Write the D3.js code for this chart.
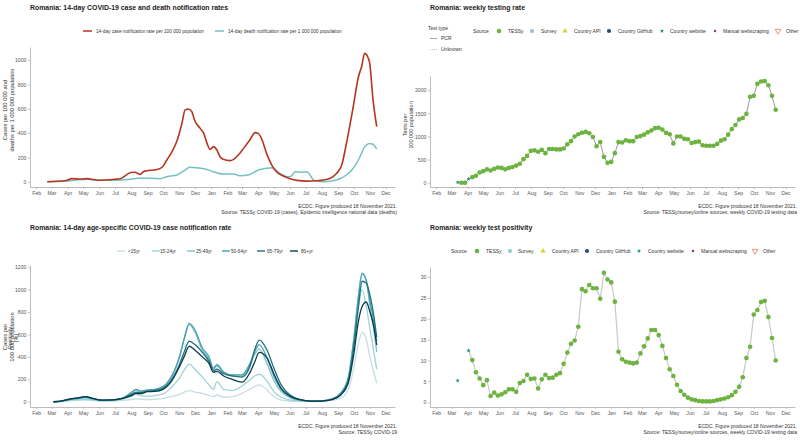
<!DOCTYPE html>
<html><head><meta charset="utf-8">
<script src="https://cdn.jsdelivr.net/npm/d3@7"></script>
<style>body{margin:0;background:#fff} svg text{font-family:"Liberation Sans",Arial,sans-serif}</style>
</head><body><svg id="c" width="800" height="440"></svg>
<script>
// ---------- DATA ----------
const caseDates = ["2020-02-22","2020-03-30","2020-04-09","2020-04-29","2020-05-08","2020-05-30","2020-06-30","2020-07-11","2020-07-31","2020-08-08","2020-08-18","2020-08-24","2020-08-29","2020-09-19","2020-09-30","2020-10-08","2020-10-18","2020-10-27","2020-11-06","2020-11-12","2020-11-18","2020-11-25","2020-11-30","2020-12-11","2020-12-18","2020-12-24","2020-12-30","2021-01-05","2021-01-12","2021-01-18","2021-01-24","2021-02-06","2021-02-13","2021-02-22","2021-03-04","2021-03-16","2021-03-26","2021-04-01","2021-04-08","2021-04-17","2021-04-27","2021-05-06","2021-05-19","2021-06-01","2021-06-14","2021-07-03","2021-07-22","2021-08-04","2021-08-16","2021-08-29","2021-09-08","2021-09-17","2021-09-30","2021-10-10","2021-10-16","2021-10-22","2021-10-31","2021-11-07","2021-11-14"];
const caseValues = [0,10,25,22,25,12,20,25,75,78,60,82,88,100,123,178,247,330,480,590,597,575,507,438,395,315,265,288,260,205,184,173,184,219,274,342,403,397,348,233,137,82,47,25,11,5,8,14,27,68,137,315,616,863,945,1055,986,671,452];
const deathDates = ["2020-02-22","2020-03-30","2020-04-18","2020-05-08","2020-05-30","2020-06-30","2020-07-30","2020-08-18","2020-09-25","2020-10-08","2020-10-27","2020-11-12","2020-11-21","2020-12-04","2020-12-24","2021-01-05","2021-01-24","2021-02-13","2021-02-25","2021-03-16","2021-04-01","2021-04-17","2021-04-27","2021-05-13","2021-05-29","2021-06-04","2021-06-10","2021-06-23","2021-07-03","2021-07-18","2021-08-06","2021-08-29","2021-09-17","2021-09-30","2021-10-13","2021-10-22","2021-10-31","2021-11-06","2021-11-14"];
const deathValues = [0,5,14,20,12,12,20,30,25,41,55,96,118,115,101,82,63,63,49,60,96,110,115,68,41,47,82,77,82,8,0,14,55,110,205,288,315,310,268];

const ageGroups = ["<15yr","15-24yr","25-49yr","50-64yr","65-79yr","80+yr"];
const ageDates = ["2020-03-05","2020-03-20","2020-04-05","2020-04-20","2020-05-05","2020-05-20","2020-06-05","2020-06-25","2020-07-15","2020-08-01","2020-08-10","2020-08-20","2020-09-01","2020-09-15","2020-10-01","2020-10-15","2020-11-01","2020-11-10","2020-11-20","2020-12-01","2020-12-15","2020-12-28","2021-01-05","2021-01-12","2021-01-25","2021-02-10","2021-03-01","2021-03-15","2021-03-25","2021-04-03","2021-04-18","2021-05-01","2021-05-15","2021-06-01","2021-06-20","2021-07-10","2021-08-01","2021-08-20","2021-09-05","2021-09-20","2021-10-01","2021-10-10","2021-10-17","2021-10-25","2021-11-01","2021-11-08","2021-11-14"];
const ageU15  = [0,2,8,12,15,10,5,6,12,20,25,22,20,22,30,45,65,85,100,85,75,55,45,60,40,45,75,110,135,150,105,45,15,6,3,2,4,12,30,100,300,520,620,560,400,270,165];
const age1524 = [0,3,12,18,22,15,8,10,22,50,65,55,50,55,70,120,210,280,335,290,220,150,110,180,110,100,140,190,230,245,185,90,40,15,6,3,6,22,60,180,500,850,1000,850,650,460,290];
const age2549 = [0,5,20,30,35,25,12,15,32,85,105,90,100,105,130,200,390,550,690,620,460,380,290,320,255,230,230,310,420,470,340,190,90,35,12,5,8,25,75,210,560,950,1150,1080,850,650,445];
const age5064 = [0,5,20,28,38,25,12,15,30,80,110,95,105,110,135,210,400,560,700,640,480,400,300,330,265,240,240,330,440,510,390,230,110,45,15,5,8,25,70,200,550,930,1140,1080,900,720,540];
const age6579 = [0,6,22,32,45,28,14,16,30,65,85,80,95,100,120,180,330,440,540,510,440,360,280,290,250,230,220,300,460,550,460,300,150,60,20,5,7,20,60,180,480,850,1075,1060,950,780,575];
const age80p  = [0,6,25,35,45,30,15,16,30,55,75,72,90,92,110,170,310,400,495,460,400,340,265,270,230,200,175,250,350,440,390,250,120,50,18,5,6,18,55,160,420,720,850,890,800,680,505];

const testStart = "2020-03-13"; // first reporting week, weekly thereafter
const testValues = [10,0,0,85,120,150,220,250,290,265,300,330,320,290,320,340,370,410,510,580,690,700,670,710,640,730,730,720,720,740,830,900,1000,1050,1080,1100,1070,990,790,880,560,430,450,640,880,870,920,900,900,990,1010,1040,1090,1130,1180,1190,1150,1080,1050,850,1000,1000,950,940,860,880,890,810,800,800,800,840,910,940,1040,1160,1250,1370,1400,1490,1860,1880,2140,2190,2200,2110,1880,1580];
const posValues = [5.2,null,null,12.4,10.1,7.2,5.7,4.1,5.3,1.5,2.3,1.6,1.9,2.4,3.1,3.1,2.5,4.6,5.1,6.6,5.6,5.7,3.3,5.5,6.6,5.8,5.9,6.6,7.0,9.2,11.9,14.0,14.8,18.1,27.1,26.6,28.1,27.3,27.3,24.8,31.0,29.4,28.7,24.1,12.1,10.3,9.7,9.5,9.3,9.5,11.7,13.4,15.3,17.3,17.3,16.1,13.5,10.6,7.9,6.3,4.2,2.7,1.8,1.1,0.7,0.5,0.3,0.2,0.2,0.2,0.3,0.5,0.7,0.9,1.2,1.7,2.5,3.7,6.0,10.6,13.3,21.0,22.1,24.0,24.3,20.4,15.4,10.0];
const testSourceIdx = {0:"Country website",3:"Country website"}; // all other weeks: TESSy
const sources = ["TESSy","Survey","Country API","Country GitHub","Country website","Manual webscraping","Other"];

const yTicksCases = [0,200,400,600,800,1000];
const yTicksTests = [0,500,1000,1500,2000];
const yTicksAge = [0,200,400,600,800,1000,1200];
const yTicksPos = [0,5,10,15,20,25,30];

// ---------- SETUP ----------
const svg = d3.select('#c');
const parse = d3.timeParse('%Y-%m-%d');
const fmtMonth = d3.timeFormat('%b');
const monthTicks = d3.timeMonth.range(new Date(2020,1,1), new Date(2021,11,2));
const AX = '#a0a0a0', TXT = '#595959', DARK = '#333';
const srcStyle = {
  "TESSy": {t:d3.symbolCircle, s:17, fill:'#6db33f'},
  "Survey": {t:d3.symbolSquare, s:12, fill:'#8cc3cf'},
  "Country API": {t:d3.symbolTriangle, s:12, fill:'#d4d52a'},
  "Country GitHub": {t:d3.symbolCircle, s:14, fill:'#2b4a74'},
  "Country website": {t:d3.symbolStar, s:6, fill:'#14907c'},
  "Manual webscraping": {t:d3.symbolCircle, s:5, fill:'#8b3a96'},
  "Other": {t:d3.symbolTriangle, s:14, fill:'none', stroke:'#e06a4a', rot:180}
};
const ageColors = ['#c5dfe3','#a0d3d3','#79c1cc','#47a0ad','#1d6e7e','#0d3b4c'];

function makeX(left){ return d3.scaleTime().domain([new Date(2020,0,20), new Date(2021,11,19)]).range([left,left+365]); }

function axes(x, y, ticks, bottom, left){
  const gx = svg.append('g').attr('transform',`translate(0,${bottom})`)
    .call(d3.axisBottom(x).tickValues(monthTicks).tickFormat(fmtMonth).tickSize(2).tickPadding(2).tickSizeOuter(0));
  const gy = svg.append('g').attr('transform',`translate(${left},0)`)
    .call(d3.axisLeft(y).tickValues(ticks).tickFormat(d3.format('d')).tickSize(2).tickPadding(1.5).tickSizeOuter(0));
  [gx,gy].forEach(g=>{
    g.attr('font-family','"Liberation Sans",Arial,sans-serif').attr('font-size',5.2);
    g.select('.domain').attr('stroke',AX).attr('stroke-width',0.7);
    g.selectAll('.tick line').attr('stroke',AX).attr('stroke-width',0.6);
    g.selectAll('.tick text').attr('fill',TXT);
  });
}
function title(x,y,t){ svg.append('text').attr('x',x).attr('y',y).attr('font-size',6.9).attr('font-weight','bold').attr('fill','#222').text(t); }
function caption(x,y,lines){ lines.forEach((l,i)=>svg.append('text').attr('x',x).attr('y',y+i*5.6).attr('text-anchor','end').attr('font-size',5).attr('fill',DARK).text(l)); }
function ytitle(cx,cy,lines,size){ const t=svg.append('text').attr('transform',`translate(${cx},${cy}) rotate(-90)`).attr('text-anchor','middle').attr('font-size',size).attr('fill',DARK);
  lines.forEach((l,i)=>t.append('tspan').attr('x',0).attr('dy',i?size*1.15:0).text(l)); }
function symbolAt(g,name,cx,cy,scale){
  const st=srcStyle[name];
  g.append('path').attr('d',d3.symbol().type(st.t).size(st.s*(scale||1))())
   .attr('transform',`translate(${cx},${cy}) rotate(${st.rot||0})`)
   .attr('fill',st.fill).attr('stroke',st.stroke||'none').attr('stroke-width',0.7);
}
function sourceLegend(y, labelX, items){
  svg.append('text').attr('x',labelX).attr('y',y+1.8).attr('font-size',5).attr('fill',DARK).text('Source');
  items.forEach(([name,sx,tx])=>{
    symbolAt(svg,name,sx,y);
    svg.append('text').attr('x',tx).attr('y',y+1.8).attr('font-size',5).attr('fill',DARK).text(name);
  });
}

// ---------- PANEL 1: cases & deaths ----------
{
  const x = makeX(30);
  const y = d3.scaleLinear().domain([-43.5,1107]).range([187,47]);
  title(30,9.5,'Romania: 14-day COVID-19 case and death notification rates');
  axes(x,y,yTicksCases,187,30);
  const line = d3.line().x(d=>x(d[0])).y(d=>y(d[1])).curve(d3.curveMonotoneX);
  svg.append('path').datum(deathDates.map((d,i)=>[parse(d),deathValues[i]])).attr('d',line)
    .attr('fill','none').attr('stroke','#76c1c3').attr('stroke-width',1.5);
  svg.append('path').datum(caseDates.map((d,i)=>[parse(d),caseValues[i]])).attr('d',line)
    .attr('fill','none').attr('stroke','#b5361e').attr('stroke-width',1.6);
  const leg=[['14-day case notification rate per 100 000 population','#b5361e',83,96],['14-day death notification rate per 1 000 000 population','#76c1c3',215,228]];
  leg.forEach(([t,c,lx,tx])=>{
    svg.append('line').attr('x1',lx).attr('x2',lx+9).attr('y1',31).attr('y2',31).attr('stroke',c).attr('stroke-width',1.5);
    svg.append('text').attr('x',tx).attr('y',32.7).attr('font-size',4.7).attr('fill',DARK).text(t);
  });
  ytitle(7,110,['Cases per 100 000 and','deaths per 1 000 000 population'],5.8);
  caption(397,208,['ECDC. Figure produced 18 November 2021.','Source: TESSy COVID-19 (cases), Epidemic intelligence national data (deaths)']);
}

// ---------- PANEL 2: testing rate ----------
const testDates = testValues.map((v,i)=>d3.timeDay.offset(parse(testStart),7*i));
const srcOf = i => testSourceIdx[i] || "TESSy";
{
  const x = makeX(430);
  const y = d3.scaleLinear().domain([-93,2310]).range([187,76]);
  title(430,9.5,'Romania: weekly testing rate');
  axes(x,y,yTicksTests,187,430);
  const pts = testValues.map((v,i)=>({d:testDates[i],v,i}));
  svg.append('path').datum(pts).attr('d',d3.line().x(p=>x(p.d)).y(p=>y(p.v)))
    .attr('fill','none').attr('stroke','#7f7f7f').attr('stroke-width',0.8);
  pts.forEach(p=>symbolAt(svg,srcOf(p.i),x(p.d),y(p.v)));
  // test type legend
  svg.append('text').attr('x',428).attr('y',30).attr('font-size',5).attr('fill',DARK).text('Test type');
  svg.append('line').attr('x1',430).attr('x2',437).attr('y1',38.5).attr('y2',38.5).attr('stroke','#7f7f7f').attr('stroke-width',0.7);
  svg.append('text').attr('x',441).attr('y',40.3).attr('font-size',5).attr('fill',DARK).text('PCR');
  svg.append('line').attr('x1',430).attr('x2',437).attr('y1',49.5).attr('y2',49.5).attr('stroke','#9a9a9a').attr('stroke-width',0.6).attr('stroke-dasharray','1,1');
  svg.append('text').attr('x',441).attr('y',51.3).attr('font-size',5).attr('fill',DARK).text('Unknown');
  sourceLegend(31,473,[["TESSy",499,508],["Survey",532,541],["Country API",565,574],["Country GitHub",609,618],["Country website",662,670],["Manual webscraping",715,723],["Other",778,786]]);
  ytitle(407,125,['Tests per','100 000 population'],5.6);
  caption(797,208,['ECDC. Figure produced 18 November 2021.','Source: TESSy/survey/online sources, weekly COVID-19 testing data']);
}

// ---------- PANEL 3: age-specific ----------
{
  const x = makeX(30);
  const y = d3.scaleLinear().domain([-47,1220]).range([407,265]);
  title(30,229.5,'Romania: 14-day age-specific COVID-19 case notification rate');
  axes(x,y,yTicksAge,407,30);
  const series=[ageU15,age1524,age2549,age5064,age6579,age80p];
  const line = d3.line().x(d=>x(d[0])).y(d=>y(d[1])).curve(d3.curveMonotoneX);
  series.forEach((s,k)=>{
    svg.append('path').datum(ageDates.map((d,i)=>[parse(d),s[i]])).attr('d',line)
      .attr('fill','none').attr('stroke',ageColors[k]).attr('stroke-width',1.3);
  });
  const lx=[117,152,187,222,257,290], tx=[128,160,196,231,267,301];
  ageGroups.forEach((g,k)=>{
    svg.append('line').attr('x1',lx[k]).attr('x2',lx[k]+8).attr('y1',251).attr('y2',251).attr('stroke',ageColors[k]).attr('stroke-width',1.4);
    svg.append('text').attr('x',tx[k]).attr('y',252.7).attr('font-size',4.7).attr('fill',DARK).text(g);
  });
  ytitle(7,337,['Cases per','100 000 population'],5.8);
  caption(397,428,['ECDC. Figure produced 18 November 2021.','Source: TESSy COVID-19']);
}

// ---------- PANEL 4: positivity ----------
{
  const x = makeX(430);
  const y = d3.scaleLinear().domain([-1.13,32.4]).range([407,267]);
  title(430,229.5,'Romania: weekly test positivity');
  axes(x,y,yTicksPos,407,430);
  const pts = posValues.map((v,i)=>({d:testDates[i],v,i}));
  svg.append('path').datum(pts).attr('d',d3.line().defined(p=>p.v!==null && p.i>=3).x(p=>x(p.d)).y(p=>y(p.v)))
    .attr('fill','none').attr('stroke','#c8c8c8').attr('stroke-width',1.2);
  pts.filter(p=>p.v!==null).forEach(p=>symbolAt(svg,srcOf(p.i),x(p.d),y(p.v)));
  sourceLegend(251,451,[["TESSy",477,486],["Survey",510,518],["Country API",543,552],["Country GitHub",587,596],["Country website",639,648],["Manual webscraping",693,701],["Other",755,763]]);
  ytitle(12,338,['Positivity','(%)'],5.6);
  caption(797,428,['ECDC. Figure produced 18 November 2021.','Source: TESSy/survey/online sources, weekly COVID-19 testing data']);
}
</script></body></html>
